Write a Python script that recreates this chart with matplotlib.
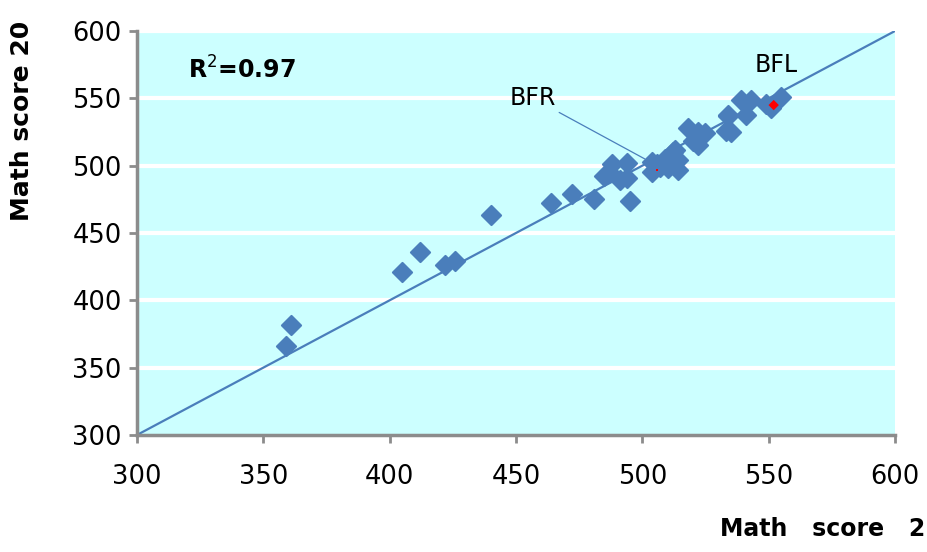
import matplotlib
matplotlib.use("Agg")
import matplotlib.pyplot as plt

# Data
math_x = [361, 359, 405, 412, 422, 426, 440, 464, 472, 481, 485, 488, 494, 494,
          495, 491, 487, 504, 504, 507, 512, 514, 514, 509, 506, 511, 513, 510,
          518, 522, 525, 520, 522, 534, 533, 535, 539, 543, 541, 534, 551, 555, 549]
math_y = [382, 366, 421, 436, 426, 429, 463, 472, 479, 475, 492, 501, 502, 491,
          474, 489, 495, 503, 495, 499, 510, 504, 497, 505, 501, 507, 512, 498,
          528, 525, 524, 518, 515, 538, 526, 525, 549, 549, 538, 537, 543, 551, 546]
highlight_x = [552]
highlight_y = [545]
bfr_point = (506, 497)
r2_text = "R$^2$=0.97"
x_ticks = [300, 350, 400, 450, 500, 550, 600]
y_ticks = [300, 350, 400, 450, 500, 550, 600]

blue = "#4a7ebb"
spine_gray = "#8c8c8c"

fig = plt.figure(figsize=(9.28, 5.52), dpi=100)
ax = fig.add_axes([0.1476, 0.2120, 0.8168, 0.7318])
ax.set_facecolor("#ccffff")
ax.set_xlim(300, 600)
ax.set_ylim(300, 600)

for yv in y_ticks[1:]:
    ax.axhline(yv, color="white", lw=3, zorder=1)

ax.plot([300, 600], [300, 600], color=blue, lw=1.6, zorder=2)
ax.scatter(math_x, math_y, marker="D", s=95, color=blue, edgecolors=blue,
           linewidths=1.5, zorder=3)
ax.scatter(highlight_x, highlight_y, marker="D", s=28, color="red",
           edgecolors="none", zorder=4)
ax.scatter([bfr_point[0]], [bfr_point[1]], marker="s", s=2, color="red",
           edgecolors="none", zorder=4)

ax.annotate("BFR", xy=(501, 505), xytext=(466, 550), fontsize=17,
            ha="right", va="center",
            arrowprops=dict(arrowstyle="-", color=blue, lw=0.9,
                            shrinkA=0, shrinkB=0), zorder=5)
ax.text(553, 575, "BFL", fontsize=17, ha="center", va="center", zorder=5)
ax.text(320, 571, r2_text, fontsize=17, fontweight="bold", ha="left",
        va="center", zorder=5)

for s in ["top", "right"]:
    ax.spines[s].set_visible(False)
for s in ["left", "bottom"]:
    ax.spines[s].set_color(spine_gray)
    ax.spines[s].set_linewidth(2.5)

ax.set_xticks(x_ticks)
ax.set_yticks(y_ticks)
ax.tick_params(axis="both", colors=spine_gray, width=2, length=6,
               labelcolor="black", labelsize=18.5)
ax.tick_params(axis="x", pad=15)
ax.tick_params(axis="y", pad=5)

fig.text(0.024, 0.781, "Math score 20", rotation=90, fontsize=18,
         fontweight="bold", ha="center", va="center")
fig.text(0.997, 0.020, "Math   score   2", fontsize=17, fontweight="bold",
         ha="right", va="bottom")

fig.savefig("out.png", dpi=100)
